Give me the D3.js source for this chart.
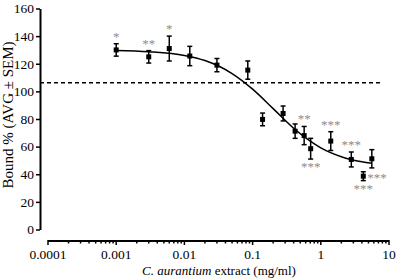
<!DOCTYPE html>
<html>
<head>
<meta charset="utf-8">
<script src="https://cdn.jsdelivr.net/npm/d3@7"></script>
<style>
  body { margin: 0; background: #fff; }
</style>
</head>
<body>
<div id="chart"></div>
<script>
// Measured points: concentration (mg/ml), mean bound %, SEM
const conc = [0.001, 0.003, 0.006, 0.012, 0.03, 0.085, 0.14, 0.28, 0.42, 0.57, 0.71, 1.4, 2.8, 4.2, 5.6];
const bound = [130, 125, 131, 125.6, 119, 115.4, 79.7, 84, 71.2, 68, 58.5, 64, 50.7, 38.6, 51.2];
const sem = [4.5, 4.5, 9, 7, 4.8, 6.6, 4.6, 5.4, 5.2, 6.6, 7.5, 6.8, 5.4, 3.2, 6.6];
// significance marks and where they sit
const stars = ["*", "**", "*", "", "", "", "", "", "", "**", "***", "***", "***", "***", ""];
const starPos = ["above", "above", "above", "", "", "", "", "", "", "above", "below", "above", "above", "right+below", ""];

// fitted curve
const fitX = [0.001, 0.003, 0.01, 0.02, 0.05, 0.1, 0.2, 0.4, 0.7, 1, 2, 4, 5.6];
const fitY = [129.6, 128.7, 126, 122.3, 112.9, 101.6, 87.5, 73.3, 63.9, 59.1, 52.7, 49, 47.9];

const refLine = 106.3;
const xTicks = [0.0001, 0.001, 0.01, 0.1, 1, 10];
const xTickLabels = ["0.0001", "0.001", "0.01", "0.1", "1", "10"];
const yTicks = [0, 20, 40, 60, 80, 100, 120, 140, 160];

const FONT = "Liberation Serif, DejaVu Serif, serif";
const W = 397, H = 280;
const svg = d3.select("#chart").append("svg")
    .attr("width", W).attr("height", H)
    .attr("font-family", FONT);

const x = d3.scaleLog().domain([0.0001, 10]).range([48, 389]);
const y = d3.scaleLinear().domain([0, 160]).range([229.5, 8.5]);

// Y axis
const yAxis = svg.append("g")
    .attr("transform", "translate(40,0)")
    .call(d3.axisLeft(y).tickValues(yTicks).tickSize(4).tickPadding(2).tickSizeOuter(0))
    .attr("font-family", FONT)
    .attr("font-size", 13.5);
yAxis.select(".domain").attr("stroke-width", 2);
yAxis.selectAll(".tick line").attr("stroke-width", 1.5);

// X axis, with minor ticks between decades
const minor = [];
for (let e = -4; e < 1; e++) {
    for (let m = 2; m <= 9; m++) minor.push(m * Math.pow(10, e));
}
const xAxis = svg.append("g")
    .attr("transform", "translate(0,241)");
xAxis.append("line")
    .attr("x1", x(0.0001)).attr("x2", x(10))
    .attr("stroke", "#000").attr("stroke-width", 2);
xAxis.selectAll(".minor").data(minor).enter().append("line")
    .attr("x1", d => x(d)).attr("x2", d => x(d))
    .attr("y1", 0).attr("y2", 2.5)
    .attr("stroke", "#000").attr("stroke-width", 1.5);
xAxis.selectAll(".major").data(xTicks).enter().append("line")
    .attr("x1", d => x(d)).attr("x2", d => x(d))
    .attr("y1", -1).attr("y2", 4)
    .attr("stroke", "#000").attr("stroke-width", 1.5);
xAxis.selectAll(".lbl").data(xTicks).enter().append("text")
    .attr("x", d => x(d)).attr("y", 18)
    .attr("text-anchor", "middle")
    .attr("font-size", 13.5)
    .text((d, i) => xTickLabels[i]);

// axis titles
svg.append("text")
    .attr("transform", "translate(13,115) rotate(-90)")
    .attr("text-anchor", "middle")
    .attr("font-size", 15)
    .text("Bound % (AVG ± SEM)");

const xt = svg.append("text")
    .attr("x", 219).attr("y", 275)
    .attr("text-anchor", "middle")
    .attr("font-size", 13);
xt.append("tspan").attr("font-style", "italic").text("C. aurantium");
xt.append("tspan").text(" extract (mg/ml)");

// dashed reference line
svg.append("line")
    .attr("x1", 40).attr("x2", 383)
    .attr("y1", y(refLine)).attr("y2", y(refLine))
    .attr("stroke", "#000").attr("stroke-width", 1.5)
    .attr("stroke-dasharray", "4,3");

// fit curve
const fit = fitX.map((d, i) => [d, fitY[i]]);
svg.append("path")
    .datum(fit)
    .attr("fill", "none").attr("stroke", "#000").attr("stroke-width", 1.5)
    .attr("d", d3.line().x(d => x(d[0])).y(d => y(d[1])).curve(d3.curveMonotoneX));

// error bars + points
const data = conc.map((c, i) => ({ c, v: bound[i], e: sem[i], s: stars[i], p: starPos[i] }));
const pts = svg.append("g").selectAll("g").data(data).enter().append("g");
pts.append("line")
    .attr("x1", d => x(d.c)).attr("x2", d => x(d.c))
    .attr("y1", d => y(d.v + d.e)).attr("y2", d => y(d.v - d.e))
    .attr("stroke", "#000").attr("stroke-width", 1.5);
pts.each(function (d) {
    const g = d3.select(this);
    [d.v + d.e, d.v - d.e].forEach(v => {
        g.append("line")
            .attr("x1", x(d.c) - 2.5).attr("x2", x(d.c) + 2.5)
            .attr("y1", y(v)).attr("y2", y(v))
            .attr("stroke", "#000").attr("stroke-width", 1.5);
    });
});
pts.append("rect")
    .attr("x", d => x(d.c) - 2.5).attr("y", d => y(d.v) - 2.5)
    .attr("width", 5).attr("height", 5)
    .attr("fill", "#000");

// significance stars
const starG = svg.append("g").attr("font-size", 13).attr("fill", "#8c8c8c");
function star(xp, yp, anchor, s) {
    starG.append("text").attr("x", xp).attr("y", yp)
        .attr("text-anchor", anchor).text(s);
}
data.forEach(d => {
    if (!d.s) return;
    const cx = x(d.c);
    if (d.p === "above") {
        star(cx, y(d.v + d.e) - 3, "middle", d.s);
    } else if (d.p === "below") {
        star(cx, y(d.v - d.e) + 12, "middle", d.s);
    } else {
        star(cx + 4, y(d.v) + 6, "start", d.s);
        star(cx, y(d.v - d.e) + 12, "middle", d.s);
    }
});
</script>
</body>
</html>
